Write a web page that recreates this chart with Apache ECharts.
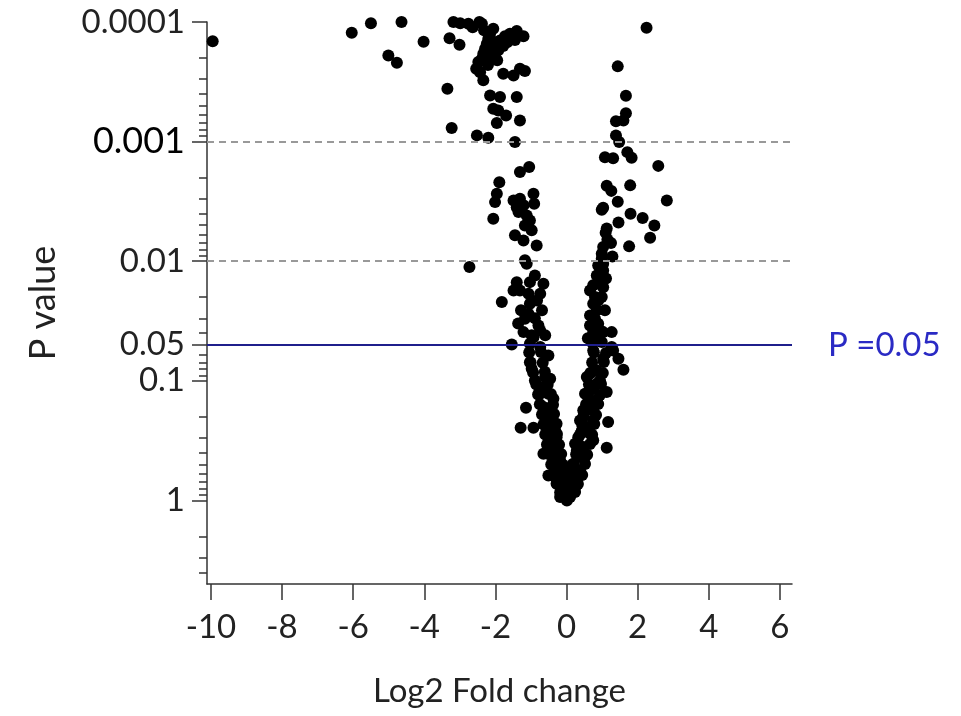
<!DOCTYPE html>
<html><head><meta charset="utf-8">
<script src="https://cdn.jsdelivr.net/npm/echarts@6/dist/echarts.min.js"></script>
<style>html,body{margin:0;padding:0;background:#fff}#c{width:961px;height:716px}</style>
</head><body><div id="c"></div>
<script>
// Log2 fold change (x) and -log10(P) (y)
const log2FoldChange = [
-9.95,-6.04,-5.50,-4.64,-4.02,-5.01,-4.77,
-3.29,-3.01,-3.18,-2.99,-2.76,-2.64,-2.45,-2.38,-2.06,-2.15,-2.20,-2.24,-2.29,-2.34,-2.38,-2.48,-2.54,
-1.87,-1.73,-1.59,-1.40,-1.21,-1.92,-2.01,-2.10,-1.78,-1.49,-1.31,-1.17,-3.35,-2.34,-2.15,-1.87,-1.40,
-2.06,-1.92,-1.70,-1.96,-1.31,-3.23,-2.52,-2.20,-1.45,
2.25,1.44,1.67,1.67,1.39,1.60,1.39,1.48,1.08,1.31,1.71,1.83,2.58,1.13,1.26,1.79,1.44,1.03,0.99,2.82,
1.80,2.14,2.47,2.35,1.46,1.13,1.10,1.15,1.25,1.03,1.76,0.99,1.29,0.99,1.03,1.03,0.85,0.75,0.99,1.03,
0.80,0.99,0.75,0.85,0.66,0.80,0.89,0.75,1.27,0.71,0.85,0.99,1.27,1.03,
0.75,1.03,1.31,1.46,1.60,0.57,0.85,0.94,0.75,1.13,0.52,0.66,0.47,0.75,1.17,0.38,0.57,0.33,0.75,1.13,
0.29,0.52,0.19,0.38,0.01,0.29,0.10,-0.04,0.19,0.01,
-1.31,-1.05,-1.89,-1.96,-2.01,-2.06,-1.49,-1.31,-1.40,-1.21,-0.93,-0.91,-1.35,-1.12,-1.03,-1.17,-0.98,
-1.45,-1.21,-0.84,-2.73,-1.17,-1.12,-0.89,-0.65,-1.03,-1.40,-1.49,-1.07,-0.74,-1.03,-1.07,-1.82,-1.17,
-1.21,-0.79,-0.74,-0.98,-1.54,-1.03,-0.74,
-0.93,-0.51,-1.03,-0.98,-0.89,-0.60,-0.46,-0.74,-0.37,-1.14,-1.29,-0.93,-0.65,-0.56,-0.28,-0.51,-0.28,
-0.65,-0.37,-0.18,-0.51,-0.18,-0.28,-0.09,
-0.65,-0.51,-0.42,-0.60,-0.46,-0.32,-0.46,-0.28,-0.37,-0.23,-0.32,-0.13,-0.18,-0.04,0.05,
0.66,0.85,0.61,0.85,0.47,0.75,0.43,0.66,0.24,0.47,0.38,0.15,0.33,0.05,0.24,0.10,
-1.05,-0.72,-1.01,-0.67,-0.94,-0.61,-0.85,-0.53,-0.80,-0.44,-0.75,-0.38,-0.69,-0.35,-0.65,-0.31,
-0.60,-0.27,-0.55,-0.21,-0.49,-0.15,-0.43,-0.10,-0.35,-0.02,-0.24,0.07,-0.18,0.10,
0.77,1.11,0.72,1.05,0.69,1.02,0.63,0.97,0.60,0.94,0.55,0.89,0.49,0.83,0.44,0.78,
0.38,0.72,0.32,0.66,0.27,0.58,0.18,0.52,0.10,0.44,0.01,0.32,-0.04,0.24,
-1.28,-0.89,-0.69,-1.31,-0.83,-0.60,-1.36,
0.89,1.11,0.66,0.89,1.08,0.66,0.94,0.60,
-2.32,-2.01,-2.21,-1.95,-1.78,-2.09,-1.67,-1.45,-2.43
];
const negLog10P = [
3.84,3.91,3.99,4.00,3.835,3.72,3.66,
3.865,3.81,4.00,3.99,3.986,3.957,4.00,3.986,3.944,3.902,3.86,3.819,3.777,3.735,3.693,3.665,3.61,
3.846,3.88,3.902,3.924,3.88,3.763,3.735,3.707,3.568,3.553,3.61,3.59,3.442,3.512,3.386,3.372,3.372,
3.275,3.261,3.219,3.155,3.177,3.113,3.052,3.033,2.996,
3.952,3.629,3.384,3.238,3.171,3.177,3.052,2.996,2.870,2.860,2.912,2.865,2.797,2.630,2.588,2.634,2.497,2.447,2.431,2.508,
2.397,2.362,2.298,2.196,2.324,2.274,2.237,2.182,2.153,2.118,2.124,2.063,2.040,2.021,1.979,1.923,1.881,1.798,1.825,1.783,
1.700,1.700,1.645,1.589,1.463,1.519,1.477,1.407,1.407,1.324,1.338,1.324,1.282,1.407,
1.254,1.185,1.254,1.185,1.093,1.031,1.087,1.003,0.934,0.906,0.892,0.809,0.753,0.753,0.655,0.669,0.613,0.529,0.502,0.441,
0.418,0.362,0.307,0.251,0.223,0.167,0.111,0.056,0.084,0.000,
2.745,2.787,2.661,2.564,2.494,2.355,2.508,2.523,2.452,2.467,2.564,2.481,2.411,2.383,2.341,2.299,2.258,
2.216,2.174,2.132,1.951,2.007,1.979,1.881,1.812,1.825,1.825,1.756,1.728,1.728,1.645,1.561,1.658,1.519,
1.407,1.463,1.421,1.380,1.304,1.310,1.282,
1.365,1.212,1.156,1.101,1.003,1.031,1.018,0.892,0.850,0.775,0.608,0.608,0.780,0.697,0.641,0.585,0.529,
0.390,0.418,0.334,0.209,0.251,0.140,0.084,
0.947,0.892,0.780,0.725,0.669,0.585,0.502,0.460,0.334,0.278,0.195,0.167,0.028,0.042,0.111,
1.059,0.976,0.864,0.836,0.697,0.669,0.585,0.557,0.474,0.446,0.362,0.251,0.223,0.140,0.111,0.028,
1.237,1.240,1.154,1.150,1.070,1.075,0.970,0.966,0.886,0.890,0.803,0.800,0.719,0.722,0.635,0.631,
0.552,0.555,0.468,0.465,0.385,0.388,0.301,0.298,0.217,0.220,0.134,0.131,0.067,0.064,
1.237,1.233,1.154,1.158,1.070,1.066,0.970,0.974,0.886,0.882,0.803,0.806,0.719,0.715,0.635,0.638,
0.552,0.548,0.468,0.472,0.385,0.381,0.301,0.304,0.217,0.213,0.134,0.137,0.067,0.070,
1.589,1.522,1.589,1.756,1.672,1.380,1.480,
1.965,1.856,1.756,1.672,1.589,1.547,1.421,1.355,
3.93,3.83,3.64,3.68,3.80,3.78,3.83,3.85,3.58
];
const xTickValues = [-10, -8, -6, -4, -2, 0, 2, 4, 6];
const yMajorP = [0.0001, 0.001, 0.01, 0.05, 0.1, 1];
const yMajorLabels = ['0.0001', '0.001', '0.01', '0.05', '0.1', '1'];
const yMinorP = [
  0.0002, 0.0003, 0.0004, 0.0005, 0.0006, 0.0007, 0.0008, 0.0009,
  0.002, 0.003, 0.004, 0.005, 0.006, 0.007, 0.008, 0.009,
  0.02, 0.03, 0.04, 0.06, 0.07, 0.08, 0.09,
  0.2, 0.3, 0.4, 0.5, 0.6, 0.7, 0.8, 0.9,
  2, 3, 4
];
const dashedP = [0.001, 0.01];
const thresholdP = 0.05;
const thresholdLabel = 'P =0.05';
const yAxisMaxP = 0.0001;
const yAxisMinP = 5;

const toY = p => -Math.log10(p);
const majorPos = yMajorP.map(toY);
const minorPos = yMinorP.map(toY);
const FONT = 'Lato';

const points = log2FoldChange.map((x, i) => [x, negLog10P[i]]);

const chart = echarts.init(document.getElementById('c'), null, {renderer: 'canvas'});
const yBase = {
  type: 'value', min: toY(yAxisMinP), max: toY(yAxisMaxP), position: 'left',
  splitLine: {show: false}
};
chart.setOption({
  animation: false,
  backgroundColor: '#fff',
  grid: {left: 207, right: 169, top: 22, bottom: 132, outerBoundsMode: 'none', containLabel: false},
  xAxis: {
    type: 'value', min: -10.11, max: 6.34,
    name: 'Log2 Fold change', nameLocation: 'middle', nameGap: 91,
    nameTextStyle: {fontFamily: FONT, fontSize: 33, color: '#222'},
    axisLine: {show: true, onZero: false, lineStyle: {color: '#333', width: 1.5}},
    axisTick: {show: true, length: 16, customValues: xTickValues, lineStyle: {color: '#333', width: 1.5}},
    axisLabel: {customValues: xTickValues, margin: 27, fontFamily: FONT, fontSize: 33, color: '#222',
      formatter: v => String(v)},
    splitLine: {show: false}
  },
  yAxis: [
    Object.assign({}, yBase, {
      name: 'P value', nameLocation: 'middle', nameGap: 146,
      nameTextStyle: {fontFamily: FONT, fontSize: 36, color: '#222'},
      axisLine: {show: true, onZero: false, lineStyle: {color: '#333', width: 1.5}},
      axisTick: {show: true, length: 15, customValues: majorPos, lineStyle: {color: '#333', width: 1.5}},
      axisLabel: {
        customValues: majorPos, margin: 22, fontFamily: FONT,
        formatter: v => {
          let idx = 0, best = 1e9;
          majorPos.forEach((m, i) => { const d = Math.abs(m - v); if (d < best) { best = d; idx = i; } });
          const t = yMajorLabels[idx];
          return t === '0.001' ? '{b|' + t + '}' : '{a|' + t + '}';
        },
        rich: {
          a: {fontFamily: FONT, fontSize: 33, color: '#222'},
          b: {fontFamily: FONT, fontSize: 36, color: '#000'}
        }
      }
    }),
    Object.assign({}, yBase, {
      axisLine: {show: false, onZero: false},
      axisLabel: {show: false},
      axisTick: {show: true, length: 8, customValues: minorPos, lineStyle: {color: '#333', width: 1.5}}
    })
  ],
  series: [{
    type: 'scatter',
    xAxisIndex: 0, yAxisIndex: 0,
    data: points,
    symbol: 'circle', symbolSize: 12,
    itemStyle: {color: '#000', opacity: 1},
    clip: false,
    silent: true,
    markLine: {
      silent: true, symbol: ['none', 'none'], animation: false,
      data: [
        ...dashedP.map(p => ({yAxis: toY(p), lineStyle: {color: '#999', type: [7, 5], width: 2}, label: {show: false}})),
        {yAxis: toY(thresholdP), lineStyle: {color: '#1f1f8c', type: 'solid', width: 2},
         label: {show: true, position: 'end', distance: 36, formatter: thresholdLabel,
                 fontFamily: FONT, fontSize: 33, color: '#2a2ac4'}}
      ]
    }
  }]
});
</script>
</body></html>
